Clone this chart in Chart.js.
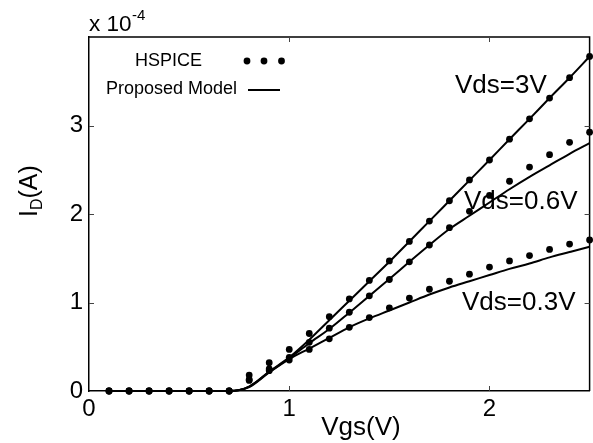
<!DOCTYPE html>
<html>
<head>
<meta charset="utf-8">
<script src="https://cdn.jsdelivr.net/npm/chart.js@4/dist/chart.umd.min.js"></script>
<style>
html,body{margin:0;padding:0;background:#fff;}
#wrap{width:593px;height:443px;position:relative;}
</style>
</head>
<body>
<div id="wrap"><canvas id="c" width="593" height="443"></canvas></div>
<script>
// Vgs (V)
const vgs = [0.1,0.2,0.3,0.4,0.5,0.6,0.7,0.8,0.9,1.0,1.1,1.2,1.3,1.4,1.5,1.6,1.7,1.8,1.9,2.0,2.1,2.2,2.3,2.4,2.5];
// HSPICE drain current (x 1e-4 A)
const hspiceVds3  = [0,0,0,0,0,0,0,0.18,0.32,0.47,0.65,0.84,1.04,1.25,1.47,1.69,1.92,2.15,2.385,2.61,2.845,3.075,3.31,3.54,3.78];
const hspiceVds06 = [0,0,0,0,0,0,0,0.13,0.25,0.38,0.55,0.71,0.89,1.075,1.26,1.46,1.65,1.845,2.03,2.21,2.37,2.53,2.67,2.81,2.925];
const hspiceVds03 = [0,0,0,0,0,0,0,0.12,0.23,0.35,0.47,0.59,0.72,0.83,0.94,1.05,1.15,1.24,1.32,1.40,1.47,1.53,1.60,1.66,1.706];
// Proposed model drain current (x 1e-4 A)
const modelVds3  = [0,0,0,0,0,0,0,0.05,0.22,0.38,0.58,0.80,1.02,1.24,1.46,1.69,1.92,2.15,2.38,2.61,2.845,3.075,3.31,3.54,3.78];
const modelVds06 = [0,0,0,0,0,0,0,0.05,0.215,0.37,0.54,0.70,0.885,1.075,1.265,1.46,1.65,1.83,1.98,2.13,2.28,2.42,2.55,2.68,2.80];
const modelVds03 = [0,0,0,0,0,0,0,0.045,0.21,0.36,0.48,0.60,0.72,0.82,0.91,1.00,1.09,1.17,1.24,1.31,1.38,1.44,1.51,1.57,1.63];
// tick labels
const xTicks = [0,1,2];
const yTicks = [0,1,2,3];
// curve labels
const curveLabels = ["Vds=3V","Vds=0.6V","Vds=0.3V"];

const FONT = "'Liberation Sans', Arial, Helvetica, sans-serif";
const pts = (ys) => vgs.map((x,i)=>({x:x,y:ys[i]}));

function dotSet(label, ys){
  return {label, data: pts(ys), showLine:false, pointRadius:3.4, pointHoverRadius:3.4,
    pointBackgroundColor:'#000', pointBorderColor:'#000', pointBorderWidth:0, clip:false};
}
function lineSet(label, ys){
  return {label, data: pts(ys), showLine:true, pointRadius:0, borderColor:'#000', borderWidth:2,
    cubicInterpolationMode:'monotone', fill:false, clip:false};
}

const decor = {
  id:'decor',
  afterDraw(chart){
    const ctx = chart.ctx, a = chart.chartArea;
    const xs = chart.scales.x, ys = chart.scales.y;
    ctx.save();
    // box
    ctx.strokeStyle = '#000'; ctx.lineWidth = 1.5;
    ctx.beginPath();
    ctx.moveTo(a.left, a.top); ctx.lineTo(a.right, a.top); ctx.lineTo(a.right, a.bottom);
    ctx.stroke();
    // inward ticks
    ctx.strokeStyle = '#444'; ctx.lineWidth = 1;
    const tl = 5;
    xTicks.forEach(v=>{
      if (v===0) return;
      const px = Math.round(xs.getPixelForValue(v))+0.5;
      ctx.beginPath();
      ctx.moveTo(px, a.bottom); ctx.lineTo(px, a.bottom-tl);
      ctx.moveTo(px, a.top); ctx.lineTo(px, a.top+tl);
      ctx.stroke();
    });
    yTicks.forEach(v=>{
      if (v===0) return;
      const py = Math.round(ys.getPixelForValue(v))+0.5;
      ctx.beginPath();
      ctx.moveTo(a.left, py); ctx.lineTo(a.left+tl, py);
      ctx.moveTo(a.right, py); ctx.lineTo(a.right-tl, py);
      ctx.stroke();
    });
    ctx.fillStyle = '#000';
    // exponent
    ctx.textBaseline = 'alphabetic'; ctx.textAlign = 'left';
    ctx.font = '22.5px ' + FONT;
    ctx.fillText('x 10', a.left, 31);
    const w10 = ctx.measureText('x 10').width;
    ctx.font = '15px ' + FONT;
    ctx.fillText('-4', a.left + w10 + 0.5, 19.5);
    // legend
    ctx.font = '18px ' + FONT;
    ctx.fillText('HSPICE', 135, 65.5);
    ctx.fillText('Proposed Model', 106, 93.5);
    [247, 264, 281.5].forEach(x=>{
      ctx.beginPath(); ctx.arc(x, 61, 3.4, 0, Math.PI*2); ctx.fill();
    });
    ctx.strokeStyle = '#000'; ctx.lineWidth = 2;
    ctx.beginPath(); ctx.moveTo(248, 90); ctx.lineTo(280, 90); ctx.stroke();
    // curve labels
    ctx.font = '26px ' + FONT;
    ctx.fillText(curveLabels[0], 455, 93);
    ctx.fillText(curveLabels[1], 464, 209);
    ctx.fillText(curveLabels[2], 462, 310);
    // x title
    ctx.textAlign = 'center';
    ctx.font = '26px ' + FONT;
    ctx.fillText('Vgs(V)', 361, 435);
    // y title
    ctx.save();
    ctx.translate(37, 217);
    ctx.rotate(-Math.PI/2);
    ctx.textAlign = 'left';
    ctx.font = '25px ' + FONT;
    ctx.fillText('I', 0, 0);
    let off = ctx.measureText('I').width;
    ctx.font = '16px ' + FONT;
    ctx.fillText('D', off, 5);
    off += ctx.measureText('D').width;
    ctx.font = '25px ' + FONT;
    ctx.fillText('(A)', off, 0);
    ctx.restore();
    ctx.restore();
  }
};

new Chart(document.getElementById('c'), {
  type:'scatter',
  data:{ datasets:[
    dotSet('HSPICE Vds=3V', hspiceVds3),
    dotSet('HSPICE Vds=0.6V', hspiceVds06),
    dotSet('HSPICE Vds=0.3V', hspiceVds03),
    lineSet('Model Vds=3V', modelVds3),
    lineSet('Model Vds=0.6V', modelVds06),
    lineSet('Model Vds=0.3V', modelVds03)
  ]},
  options:{
    responsive:false, animation:false, devicePixelRatio:1,
    layout:{padding:{left:0, right:3, top:37, bottom:0}},
    plugins:{legend:{display:false}, tooltip:{enabled:false}},
    scales:{
      x:{type:'linear', min:0, max:2.5,
        grid:{display:false, drawTicks:false},
        border:{display:true, color:'#000', width:1.5},
        afterBuildTicks:(s)=>{ s.ticks = xTicks.map(v=>({value:v})); },
        afterFit:(s)=>{ s.height = 52; },
        ticks:{color:'#000', padding:4, maxRotation:0, font:{family:FONT, size:24},
          callback:(v)=>String(v)}
      },
      y:{type:'linear', min:0, max:4,
        grid:{display:false, drawTicks:false},
        border:{display:true, color:'#000', width:1.5},
        afterBuildTicks:(s)=>{ s.ticks = yTicks.map(v=>({value:v})); },
        afterFit:(s)=>{ s.width = 89; },
        ticks:{color:'#000', padding:6, font:{family:FONT, size:24},
          callback:(v)=>String(v)}
      }
    }
  },
  plugins:[decor]
});
</script>
</body>
</html>
